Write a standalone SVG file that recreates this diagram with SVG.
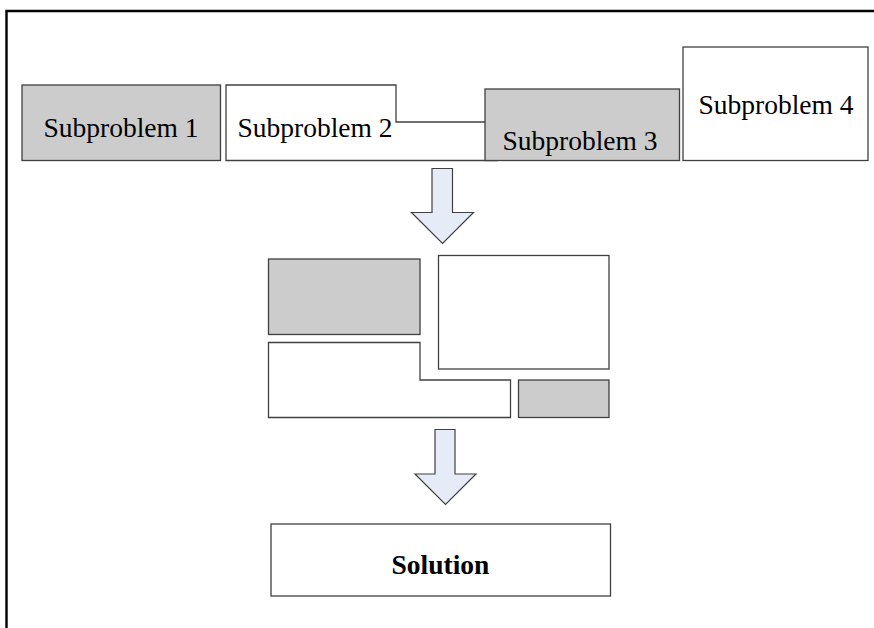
<svg xmlns="http://www.w3.org/2000/svg" width="874" height="628" viewBox="0 0 874 628">
  <style>
    .box { stroke: #404040; stroke-width: 1.3; }
    .grey { fill: #cccccc; }
    .white { fill: #ffffff; }
    .arrow { fill: #e6ecf7; stroke: #404040; stroke-width: 1.2; stroke-linejoin: miter; }
    .label { font-family: "Liberation Serif", "Times New Roman", serif; font-size: 27.5px; fill: #000000; }
    .bold { font-weight: bold; }
  </style>
  <rect width="874" height="628" fill="#ffffff"/>

  <!-- outer frame: top and left edges -->
  <g id="frame" fill="none" stroke="#000000">
    <path d="M6.5 628 V11 H874" stroke-width="2.4"/>
  </g>

  <!-- top row of subproblems -->
  <g id="subproblem-1">
    <rect class="box grey" x="22" y="85" width="198.5" height="75.5"/>
    <text class="label" x="121" y="137" text-anchor="middle">Subproblem 1</text>
  </g>
  <g id="subproblem-2">
    <polygon class="box white" points="226,85 396,85 396,122 497,122 497,160.5 226,160.5"/>
    <text class="label" x="237.5" y="137">Subproblem 2</text>
  </g>
  <g id="subproblem-3">
    <rect class="box grey" x="485" y="89" width="194.5" height="71.5"/>
    <text class="label" x="580" y="150" text-anchor="middle">Subproblem 3</text>
  </g>
  <g id="subproblem-4">
    <rect class="box white" x="683" y="47" width="185" height="113.5"/>
    <text class="label" x="776" y="114" text-anchor="middle">Subproblem 4</text>
  </g>

  <!-- combined pieces -->
  <g id="piece-a">
    <rect class="box grey" x="268.5" y="259" width="151.5" height="75.5"/>
  </g>
  <g id="piece-b">
    <rect class="box white" x="438.5" y="255.5" width="170.5" height="113.5"/>
  </g>
  <g id="piece-c">
    <polygon class="box white" points="268.5,342.5 420,342.5 420,380 510.5,380 510.5,417.5 268.5,417.5"/>
  </g>
  <g id="piece-d">
    <rect class="box grey" x="518.5" y="380" width="90.5" height="37.5"/>
  </g>

  <!-- final result -->
  <g id="solution">
    <rect class="box white" x="271" y="524" width="339.5" height="72"/>
    <text class="label bold" x="440.5" y="573.5" text-anchor="middle">Solution</text>
  </g>

  <!-- block arrows between stages -->
  <g id="connectors">
    <polygon class="arrow" points="432,168.5 452.5,168.5 452.5,212.5 473.5,212.5 442.5,243.5 411.5,212.5 432,212.5"/>
    <polygon class="arrow" points="435,429.5 455,429.5 455,474 476,474 445.5,504.5 415,474 435,474"/>
  </g>
</svg>
